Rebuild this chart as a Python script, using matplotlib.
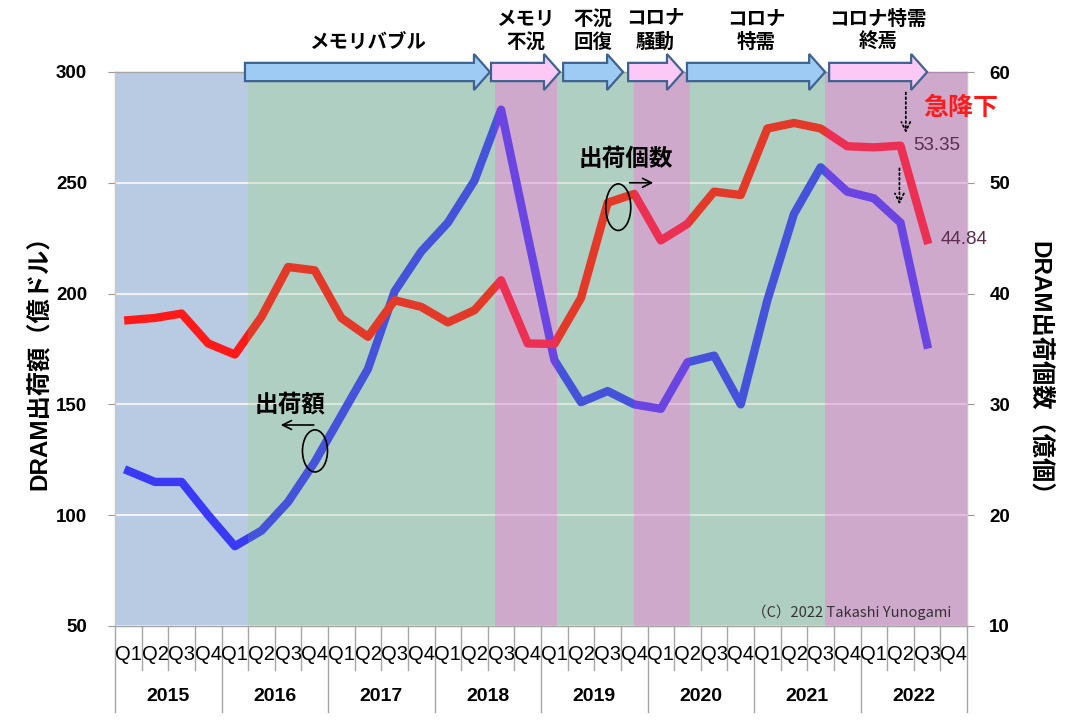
import numpy as np
import matplotlib
matplotlib.use("Agg")
import matplotlib.pyplot as plt
from matplotlib.patches import Polygon, Ellipse
from matplotlib.transforms import blended_transform_factory

plt.rcParams['font.family'] = ['Liberation Sans', 'Noto Sans CJK JP']

# --- data ---
years = ['2015', '2016', '2017', '2018', '2019', '2020', '2021', '2022']
quarters = ['Q1', 'Q2', 'Q3', 'Q4']

# DRAM出荷額 (億ドル), 2015Q1 .. 2022Q3
value = [120, 115, 115, 100,
         86, 93, 106, 124,
         145, 166, 201, 219,
         232, 251, 283, 226,
         170, 151, 156, 150,
         148, 169, 172, 150,
         197, 236, 257, 246,
         243, 232, 177]

# DRAM出荷個数 (億個), 2015Q1 .. 2022Q3
units = [37.6, 37.8, 38.2, 35.5,
         34.5, 37.9, 42.4, 42.1,
         37.8, 36.1, 39.4, 38.8,
         37.4, 38.5, 41.2, 35.5,
         35.45, 39.6, 48.2, 49.0,
         44.8, 46.3, 49.2, 48.9,
         54.9, 55.4, 54.9, 53.3,
         53.2, 53.35, 44.84]

# market phases (arrows on top), in quarter index units
phases = ['メモリバブル', 'メモリ\n不況', '不況\n回復', 'コロナ\n騒動', 'コロナ\n特需', 'コロナ特需\n終焉']
phase_start = [4.38, 13.62, 16.33, 18.77, 20.98, 26.32]
phase_end = [13.58, 16.21, 18.58, 20.83, 26.17, 30.0]
phase_kind = ['up', 'down', 'up', 'down', 'up', 'down']

# shaded background bands
shade_edges = [-0.5, 4.5, 13.77, 16.1, 19.0, 21.1, 26.17, 31.5]
shade_kind = ['start', 'up', 'down', 'up', 'down', 'up', 'down']

n = len(years) * len(quarters)
x = np.arange(n)

fig = plt.figure(figsize=(10.7, 7.2), dpi=100)
ax = fig.add_axes([0.1075, 0.1306, 0.7963, 0.7694])
ax2 = ax.twinx()

bg = {'start': '#b8cbe3', 'up': '#c0d5d8', 'down': '#d3d4d4'}
overlay = {'up': ('#6fb86a', 0.2), 'down': ('#c85abe', 0.35)}
for i, k in enumerate(shade_kind):
    ax.axvspan(shade_edges[i], shade_edges[i + 1], color=bg[k], lw=0, zorder=0)
    if k in overlay:
        c, a = overlay[k]
        ax2.axvspan(shade_edges[i], shade_edges[i + 1], color=c, alpha=a, lw=0, zorder=3)

ax.set_axisbelow(True)
yt = [50, 100, 150, 200, 250, 300]
ax.set_yticks(yt, labels=[str(t) for t in yt], fontweight='bold', fontsize=13.5)
yt2 = [10, 20, 30, 40, 50, 60]
ax2.set_yticks(yt2, labels=[str(t) for t in yt2], fontweight='bold', fontsize=13.5)
ax.grid(axis='y', color='#f2f2f6', lw=1.5)

ax.plot(x[:len(value)], value, color='#3a3af5', lw=6, zorder=2)
ax2.plot(x[:len(units)], units, color='#ff1a1a', lw=6, zorder=2)

ax.set_ylim(50, 300)
ax2.set_ylim(10, 60)
ax.set_xlim(-0.5, n - 0.5)
ax.set_xticks([])
ax2.set_xticks([])
ax.tick_params(axis='y', length=5, width=0.8, color='#999999', pad=15)
ax2.tick_params(axis='y', length=5, width=0.8, color='#999999', pad=11)

for a in (ax, ax2):
    for s in a.spines.values():
        s.set_color('#a6a6a6')
        s.set_linewidth(0.9)
    a.spines['left'].set_color('#c8c8c8')
    a.spines['right'].set_color('#c8c8c8')

# multi-level category axis
trans = ax.get_xaxis_transform()
for i in range(n):
    ax.text(i, -0.052, quarters[i % 4], ha='center', va='center', fontsize=14.5, transform=trans)
for b in range(n + 1):
    depth = -0.155 if b % 4 == 0 else -0.079
    ax.plot([b - 0.5, b - 0.5], [0, depth], transform=trans, color='#a6a6a6', lw=1, clip_on=False)
for j, yr in enumerate(years):
    ax.text(j * 4 + 1.5, -0.128, yr, ha='center', va='center', fontsize=14,
            fontweight='bold', transform=trans)

fig.text(40 / 1070, 1 - 357 / 720, 'DRAM出荷額（億ドル）', rotation=90, ha='center', va='center',
         fontsize=17.5, fontweight='bold')
fig.text(1040 / 1070, 1 - 374 / 720, 'DRAM出荷個数（億個）', rotation=270, ha='center', va='center',
         fontsize=17.5, fontweight='bold')

# phase arrows on top
tr_top = blended_transform_factory(ax2.transData, ax2.transAxes)
yc, bh, hh, hl = 1.0, 0.0165, 0.0325, 0.6
arrow_fc = {'up': '#9dcbf3', 'down': '#fcc8f6'}
for lab, x0, x1, k in zip(phases, phase_start, phase_end, phase_kind):
    verts = [(x0, yc - bh), (x1 - hl, yc - bh), (x1 - hl, yc - hh), (x1, yc),
             (x1 - hl, yc + hh), (x1 - hl, yc + bh), (x0, yc + bh)]
    ax2.add_patch(Polygon(verts, closed=True, fc=arrow_fc[k], ec='#3f6390', lw=1.6,
                          transform=tr_top, clip_on=False, zorder=6))
    ax2.text((x0 + x1) / 2, 1.036, lab, transform=tr_top, ha='center', va='bottom',
             fontsize=14, fontweight='bold', linespacing=1.3, zorder=6)

# annotations
ax2.text(31.25, 56.75, '急降下', color='#ff1a1a', fontsize=18, fontweight='bold',
         ha='center', va='center', clip_on=False, zorder=6)
ax2.text(29.48, units[29], f'{units[29]:.2f}', color='#5b2d4e', fontsize=13.5,
         ha='left', va='center', zorder=6)
ax2.text(30.5, units[30], f'{units[30]:.2f}', color='#5b2d4e', fontsize=13.5,
         ha='left', va='center', clip_on=False, zorder=6)

dotted = dict(arrowstyle='->', linestyle=':', lw=1.3, color='black', mutation_scale=16)
ax2.annotate('', xy=(29.2, units[29] + 0.9), xytext=(29.2, 58.4), arrowprops=dotted, zorder=6)
blue_q2_right = 10 + (value[29] - 50) / 5
ax2.annotate('', xy=(28.96, blue_q2_right + 1.4), xytext=(28.96, units[29] - 1.8),
             arrowprops=dotted, zorder=6)

solid = dict(arrowstyle='->', lw=1.2, color='black', mutation_scale=16)
ax2.text(18.68, 52.1, '出荷個数', fontsize=17, fontweight='bold', ha='center', va='center', zorder=6)
ax2.add_patch(Ellipse((18.4, units[18] - 0.4), 0.94, 4.2, fill=False, ec='black', lw=1.2, zorder=6))
ax2.annotate('', xy=(19.82, 50.0), xytext=(18.72, 50.0), arrowprops=solid, zorder=6)

ax2.text(6.07, 149.7, '出荷額', fontsize=17, fontweight='bold', ha='center', va='center',
         transform=ax.transData, zorder=6)
ax2.add_patch(Ellipse((7.01, value[7] + 5), 0.94, 19, fill=False, ec='black', lw=1.2,
                      transform=ax.transData, zorder=6))
ax2.annotate('', xy=(5.62, 140.7), xytext=(7.07, 140.7), xycoords=ax.transData,
             textcoords=ax.transData, arrowprops=solid, zorder=6)

ax2.text(0.982, 0.024, '（C）2022 Takashi Yunogami', transform=ax2.transAxes, ha='right',
         va='center', fontsize=10.5, color='#333333', family=['Noto Sans CJK JP'], zorder=6)

fig.savefig('out.png', dpi=100, facecolor='white')
